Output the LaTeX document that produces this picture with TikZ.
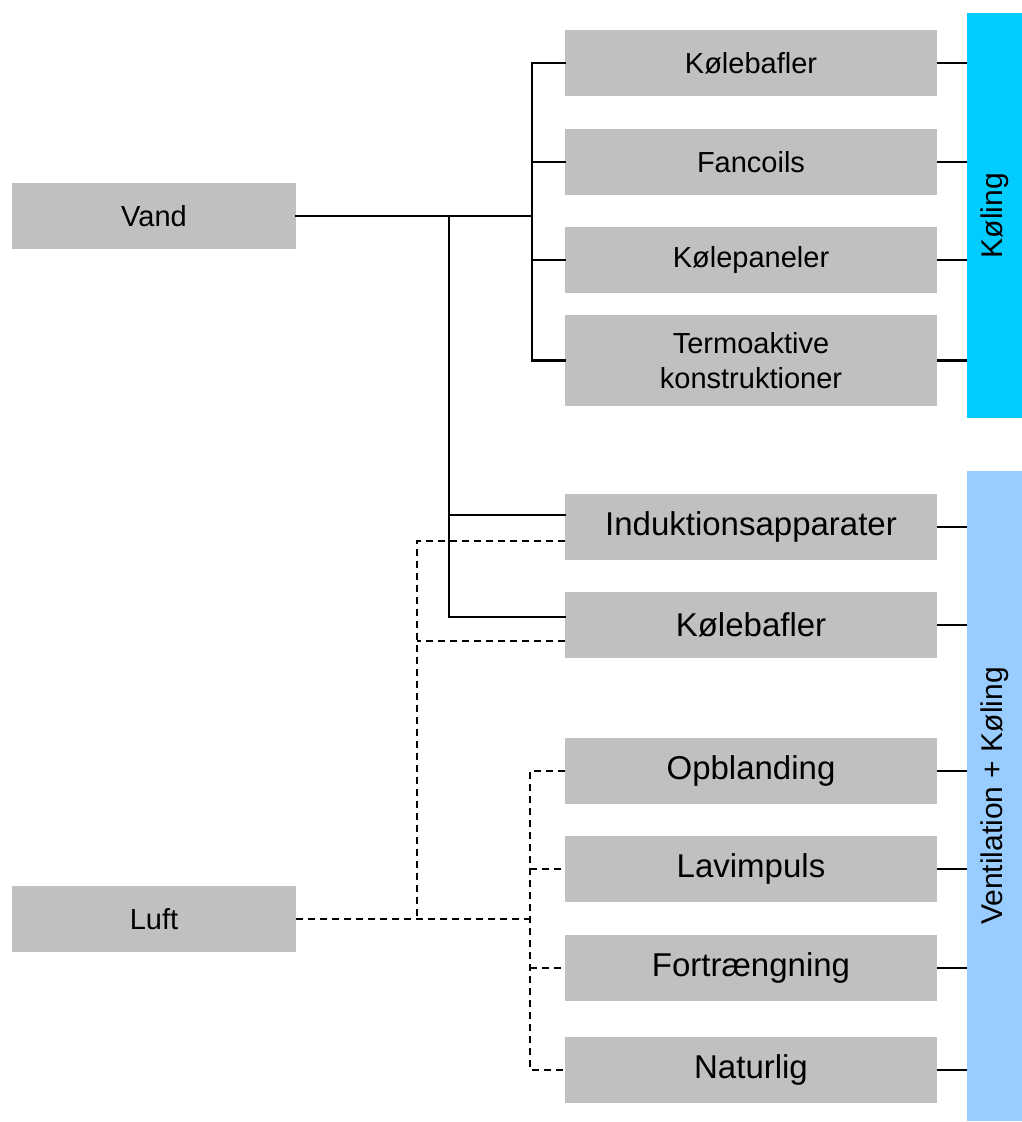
\documentclass[tikz,border=0pt]{standalone}
\usepackage{fontspec}
\setmainfont{Liberation Sans}
\usetikzlibrary{calc}
\begin{document}
\begin{tikzpicture}[x=1pt,y=-1pt,
  box/.style={fill=boxgray, draw=none, minimum width=372pt, minimum height=66pt, inner sep=0pt, align=center, font=\fontsize{29}{35}\selectfont},
  bigbox/.style={box, font=\fontsize{33}{38}\selectfont},
  leftbox/.style={box, minimum width=284pt},
  bar/.style={draw=none, minimum width=55pt, inner sep=0pt, font=\fontsize{30}{35}\selectfont},
  conn/.style={line width=2.7pt, line cap=rect},
  dconn/.style={line width=2.7pt, dash pattern=on 7pt off 5pt}]
\definecolor{boxgray}{HTML}{C0C0C0}
\definecolor{kolblue}{HTML}{00CCFF}
\definecolor{ventblue}{HTML}{99CCFF}
\useasboundingbox (0,0) rectangle (1022,1122);

% left boxes
\node[leftbox] (vand) at (154,216) {Vand};
\node[leftbox] (luft) at (154,919) {Luft};

% right boxes
\node[box] (kb1) at (751,63) {Kølebafler};
\node[box] (fan) at (751,162) {Fancoils};
\node[box] (kp) at (751,260) {Kølepaneler};
\node[box, minimum height=91pt] (term) at (751,360.5) {Termoaktive\\konstruktioner};
\node[bigbox] (ind) at (751,527) {Induktionsapparater};
\node[bigbox] (kb2) at (751,625) {Kølebafler};
\node[bigbox] (opb) at (751,771) {Opblanding};
\node[bigbox] (lav) at (751,869) {Lavimpuls};
\node[bigbox] (fort) at (751,968) {Fortrængning};
\node[bigbox] (nat) at (751,1070) {Naturlig};

% bars
\node[bar, fill=kolblue, minimum height=405pt] (koling) at (994.5,215.5) {\rotatebox{90}{Køling}};
\node[bar, fill=ventblue, minimum height=650pt] (vent) at (994.5,796) {\rotatebox{90}{Ventilation + Køling}};

% junction coordinates
\coordinate (jv) at (532,216);
\coordinate (jw) at (449,216);
\coordinate (jl) at (417,919);
\coordinate (jr) at (530,919);
\coordinate (indS) at ($(ind.west)+(0,-12)$);
\coordinate (indD) at ($(ind.west)+(0,14)$);
\coordinate (kb2S) at ($(kb2.west)+(0,-8)$);
\coordinate (kb2D) at ($(kb2.west)+(0,16)$);

% solid water connectors
\draw[conn] (vand.east) -- (jv);
\draw[conn] (kb1.west) -- (kb1.west -| jv) -- (term.west -| jv) -- (term.west);
\draw[conn] (fan.west) -- (fan.west -| jv);
\draw[conn] (kp.west) -- (kp.west -| jv);
\draw[conn] (jw) -- (kb2S -| jw) -- (kb2S);
\draw[conn] (indS -| jw) -- (indS);

% dashed air connectors
\draw[dconn] (luft.east) -- (jr);
\draw[dconn] (indD) -- (indD -| jl) -- (jl);
\draw[dconn] (kb2D) -- (kb2D -| jl);
\draw[dconn] (opb.west) -- (opb.west -| jr) -- (nat.west -| jr) -- (nat.west);
\draw[dconn] (lav.west -| jr) -- (lav.west);
\draw[dconn] (fort.west -| jr) -- (fort.west);

% right connectors to bars
\foreach \n in {kb1,fan,kp,term}{\draw[line width=2.7pt] (\n.east) -- (\n.east -| koling.west);}
\foreach \n in {ind,kb2,opb,lav,fort,nat}{\draw[line width=2.7pt] (\n.east) -- (\n.east -| vent.west);}
\end{tikzpicture}
\end{document}
